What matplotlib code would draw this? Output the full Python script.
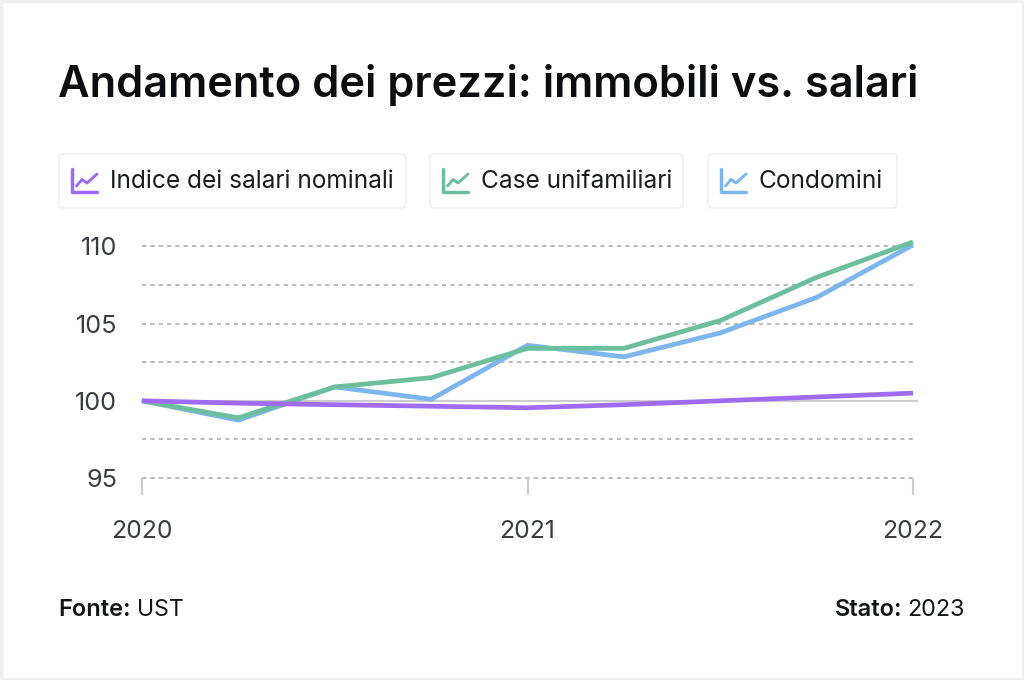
import matplotlib
matplotlib.use("Agg")
import matplotlib.pyplot as plt
from matplotlib.patches import FancyBboxPatch, Rectangle

plt.rcParams["font.family"] = ["Inter", "DejaVu Sans"]

# Index values, quarterly from 2020 to 2022
quarters = [2020, 2020.25, 2020.5, 2020.75, 2021, 2021.25, 2021.5, 2021.75, 2022]
salari = [100, 99.85, 99.75, 99.65, 99.55, 99.75, 100, 100.25, 100.5]
unifamiliari = [100, 98.9, 100.9, 101.5, 103.4, 103.4, 105.2, 108, 110.3]
condomini = [100, 98.75, 100.9, 100.1, 103.6, 102.85, 104.4, 106.7, 110.1]

series_names = ["Indice dei salari nominali", "Case unifamiliari", "Condomini"]
series_colors = ["#9F6BF2", "#6CBF9C", "#7DB6EE"]
major_y = [95, 100, 105, 110]
minor_y = [97.5, 102.5, 107.5]
year_ticks = [2020, 2021, 2022]

W, H = 1024, 680
DARK = "#111418"
TICK = "#3A3D42"
fig = plt.figure(figsize=(W / 100, H / 100), dpi=100, facecolor="white")

# Overlay in pixel coordinates for the frame, title, legend chips and footer
page = fig.add_axes([0, 0, 1, 1])
page.set_xlim(0, W)
page.set_ylim(H, 0)
page.axis("off")
page.add_patch(Rectangle((1, 1), W - 2, H - 2, fill=False, ec="#EFEFEF", lw=2.2))

page.text(58.5, 85, "Andamento dei prezzi: immobili vs. salari", fontsize=31.3,
          fontweight="semibold", color="#0B0D10", va="center", ha="left")

chips = [(59, 406), (430, 683), (708, 897)]
for (x0, x1), name, col in zip(chips, series_names, series_colors):
    page.add_patch(FancyBboxPatch((x0, 154), x1 - x0, 54,
                                  boxstyle="round,pad=0,rounding_size=4",
                                  fc="white", ec="#EDEEF0", lw=1))
    ix = x0 + 13
    page.plot([ix, ix, ix + 25], [169, 192, 192], color=col, lw=2.5, solid_joinstyle="round",
              solid_capstyle="round")
    page.plot([ix + 4.5, ix + 10, ix + 15, ix + 25], [186, 179.5, 183, 174], color=col, lw=2.1,
              solid_joinstyle="round", solid_capstyle="round")
    page.text(x0 + 51, 182, name, fontsize=17.6, color="#1A1C20", va="center", ha="left")

page.text(58.5, 609.5, "Fonte:", fontsize=17, fontweight="semibold", color=DARK, va="center")
page.text(137, 609.5, "UST", fontsize=16.6, color=DARK, va="center")
page.text(964.5, 609.5, "2023", fontsize=16.8, color=DARK, va="center", ha="right")
page.text(902, 609.5, "Stato:", fontsize=17, fontweight="semibold", color=DARK, va="center", ha="right")

# Chart area
left, right, top, bottom = 142, 913, 246.5, 478
ax = fig.add_axes([left / W, 1 - bottom / H, (right - left) / W, (bottom - top) / H])
ax.patch.set_alpha(0)
ax.set_xlim(2020, 2022)
ax.set_ylim(95, 110)
for s in ax.spines.values():
    s.set_visible(False)

for v in major_y + minor_y:
    if v == 100:
        continue
    ax.plot([2020, 2022.01], [v, v], color="#BDBDBD", lw=1.5, ls=(0, (2.0, 2.0)),
            clip_on=False, zorder=1)
ax.plot([2020, 2022.01], [100, 100], color="#CCCCCC", lw=1.5, clip_on=False, zorder=1)

ax.set_yticks(major_y)
ax.set_yticklabels([str(v) for v in major_y])
ax.tick_params(axis="y", length=0, pad=18, labelsize=18.2, labelcolor=TICK)
ax.set_xticks(year_ticks)
ax.set_xticklabels([str(v) for v in year_ticks])
ax.tick_params(axis="x", length=12, width=1.5, color="#CCCCCC", pad=18, labelsize=17.8,
               labelcolor=TICK)
for t in ax.xaxis.get_major_ticks():
    t.tick1line.set_clip_on(False)

for values, col, z in [(condomini, series_colors[2], 3), (unifamiliari, series_colors[1], 4),
                       (salari, series_colors[0], 5)]:
    ax.plot(quarters, values, color=col, lw=3.4, clip_on=False, zorder=z,
            solid_joinstyle="miter", solid_capstyle="butt")

fig.savefig("out.png", dpi=100, facecolor="white")
